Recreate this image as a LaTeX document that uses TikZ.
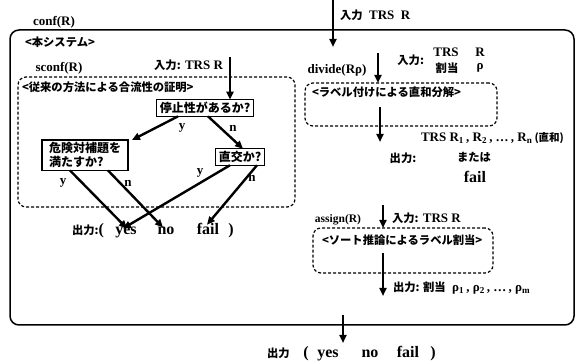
\documentclass[tikz,border=0pt]{standalone}
\usepackage{fontspec}
\setmainfont{Liberation Serif}
\newfontfamily\jp{Noto Sans CJK JP}
\newcommand{\jps}{\jp\fontsize{11.3}{13}\selectfont}
\usetikzlibrary{arrows.meta,calc}
\begin{document}
\begin{tikzpicture}[x=1pt,y=-1pt,
  every node/.style={inner sep=0pt, outer sep=0pt},
  lab/.style={font=\bfseries\fontsize{13}{14}\selectfont},
  big/.style={font=\bfseries\fontsize{16}{17}\selectfont, anchor=base},
  jpt/.style={font=\jp\bfseries\fontsize{11.3}{13}\selectfont},
  arr/.style={line width=2.4pt, -{Triangle[length=8pt,width=7pt]}},
  qbox/.style={draw, line width=1.2pt, inner xsep=3pt, inner ysep=2.5pt, align=left,
    font=\jp\bfseries\fontsize{12}{14}\selectfont},
  dbox/.style={draw, line width=1.2pt, dash pattern=on 3pt off 2pt, rounded corners=8pt},
  obox/.style={draw, line width=1.5pt, rounded corners=9pt}
]
\useasboundingbox (0,0) rectangle (576,363);

% outer box conf(R)
\node[obox, minimum width=564, minimum height=295, anchor=north west] (conf) at (10,30) {};
\node[lab] (conflab) at (54,22) {conf(R)};
\node[jpt, anchor=west] (honsys) at (25,42) {<本システム>};

% sconf
\node[lab] (sconflab) at (59,68) {sconf(R)};
\node[dbox, minimum width=277, minimum height=130, anchor=north west] (sconf) at (18,77) {};
\node[jpt, anchor=west] (sconftitle) at (22,87) {<従来の方法による合流性の証明>};
\node[lab, anchor=east] (in1) at (223,65) {{\jps 入力:} TRS\ R};
\coordinate (in1top) at (230,57);
\node[qbox] (stop) at (205,108) {停止性があるか?};
\draw[arr] (in1top) -- (in1top |- stop.north);

\node[qbox, anchor=north west, minimum width=86] (kiken) at (42,140) {危険対補題を\\満たすか?};
\node[qbox] (chokko) at (240,157) {直交か?};

\node[jpt, anchor=base east] (out1) at (104,235) {出力:\textnormal{\rmfamily\bfseries\fontsize{16}{17}\selectfont(}};
\node[big] (yes) at (126,235) {yes};
\node[big] (no) at (166,235) {no};
\node[big] (fail) at (208,235) {fail};
\node[big] (rp1) at (231,235) {)};

\draw[arr] ([xshift=-27]stop.south) -- ([xshift=4]kiken.north east);
\draw[arr] ([xshift=3]stop.south) -- ([xshift=3]chokko.north);
\draw[arr] ([xshift=28]kiken.south west) -- ([xshift=1,yshift=-1]yes.north);
\draw[arr] ([xshift=66]kiken.south west) -- ([xshift=-3]no.north);
\draw[arr] ([xshift=-10]chokko.south) -- ([xshift=-3,yshift=-1]yes.north);
\draw[arr] ([xshift=17]chokko.south) -- ([xshift=-1,yshift=-1]fail.north);

\node[lab] (ly1) at (182,128) {y};
\node[lab] (ln1) at (233,128) {n};
\node[lab] (ly2) at (63,183) {y};
\node[lab] (ln2) at (128,183) {n};
\node[lab] (ly3) at (200,173) {y};
\node[lab] (ln3) at (252,178) {n};

% top input
\coordinate (topin) at (333,0);
\coordinate (topout) at (333,47);
\draw[arr] (topin) -- (topout);
\node[lab, anchor=west] (inlab) at (340,15) {{\jps 入力}\ \ TRS\ \ R};

% divide
\node[lab] (divlab) at (337,70) {divide(Rρ)};
\node[dbox, minimum width=192, minimum height=43, anchor=north west] (divide) at (305,83) {};
\coordinate (divin) at (378,53);
\draw[arr] (divin) -- (divin |- divide.north);
\node[jpt, anchor=east] (divinlab) at (424,60) {入力:};
\node[lab] (trs2) at (446,52) {TRS};
\node[lab] (r2) at (480,52) {R};
\node[jpt] (wari2) at (447,68) {割当};
\node[lab] (rho2) at (480,68) {ρ};
\node[jpt, anchor=west] (divtitle) at (312,92) {<ラベル付けによる直和分解>};
\coordinate (divs) at (380,107);
\coordinate (divout) at (380,142);
\draw[arr] (divs) -- (divout);
\node[lab, anchor=west] (trsR) at (421,138) {TRS R\textsubscript{1}\,, R\textsubscript{2}\,, \dots\,, R\textsubscript{n}\,{\jp\fontsize{10.5}{12}\selectfont (直和)}};
\node[jpt] (out2) at (403,158) {出力:};
\node[jpt] (mataha) at (474,157) {または};
\node[big, anchor=center] (fail2) at (475,177) {fail};

% assign
\node[font=\bfseries\fontsize{11.5}{12}\selectfont] (asslab) at (338,220) {assign(R)};
\node[dbox, minimum width=180, minimum height=45, anchor=north west] (assign) at (313,228) {};
\coordinate (assin) at (383,205);
\draw[arr] (assin) -- (assin |- assign.north);
\node[lab, anchor=west] (asinlab) at (392,218) {{\jps 入力:} TRS\ R};
\node[jpt, anchor=west] (asstitle) at (322,240) {<ソート推論によるラベル割当>};
\coordinate (asss) at (383,253);
\coordinate (assout) at (383,296);
\draw[arr] (asss) -- (assout);
\node[lab, anchor=west] (assoutlab) at (393,288) {{\jps 出力: 割当}\ \ ρ\textsubscript{1}\,, ρ\textsubscript{2}\,, \dots\,, ρ\textsubscript{m}};

% bottom output
\coordinate (botin) at (343,315);
\coordinate (botout) at (343,343);
\draw[arr] (botin) -- (botout);
\node[jpt, anchor=base west] (out3) at (267,358) {出力};
\node[big] (lp3) at (306,358) {(};
\node[big] (yes3) at (328,358) {yes};
\node[big] (no3) at (370,358) {no};
\node[big] (fail3) at (408,358) {fail};
\node[big] (rp3) at (433,358) {)};
\end{tikzpicture}
\end{document}
